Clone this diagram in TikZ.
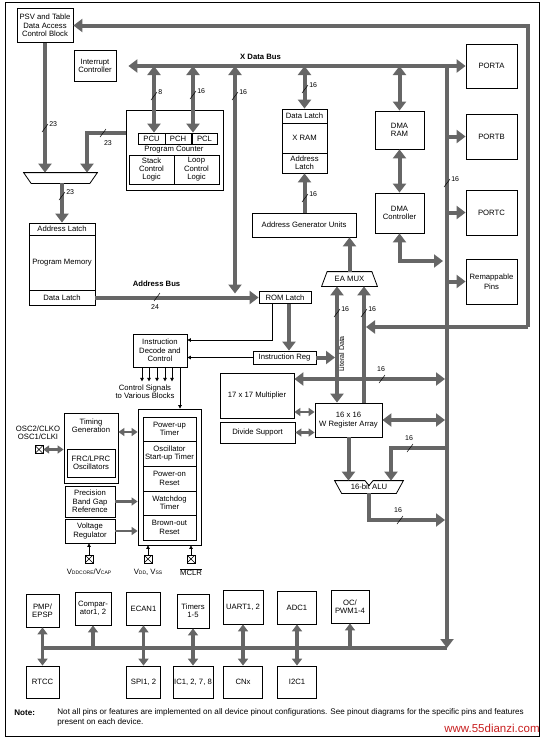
\documentclass[tikz,border=0pt]{standalone}
\usepackage{fontspec}
\setmainfont{Liberation Sans}
\usetikzlibrary{arrows.meta}
\definecolor{busgray}{RGB}{102,102,102}
\definecolor{markred}{RGB}{200,30,30}
\newcommand{\blkfont}{\fontsize{7.7}{8.4}\selectfont}
\newcommand{\numfont}{\fontsize{7}{8}\selectfont}
\newcommand{\notefont}{\fontsize{8.1}{9.5}\selectfont}
\newcommand{\capfont}{\fontsize{5}{6}\selectfont}
\begin{document}
\begin{tikzpicture}[x=1pt, y=-1pt, thick,
  blk/.style = {draw, inner sep=0pt, align=center, font=\blkfont},
  bus/.style = {draw=busgray, line width=4pt, -{Triangle[length=9pt, width=13pt]}},
  dbus/.style = {draw=busgray, line width=4pt, {Triangle[length=9pt, width=13pt]}-{Triangle[length=9pt, width=13pt]}},
  bline/.style = {draw=busgray, line width=4pt},
  pbus/.style = {draw=busgray, line width=3.5pt, -{Triangle[length=7pt, width=10pt]}},
  pdbus/.style = {draw=busgray, line width=3.5pt, {Triangle[length=7pt, width=10pt]}-{Triangle[length=7pt, width=10pt]}},
  sbus/.style = {draw=busgray, line width=2.5pt, -{Triangle[length=6pt, width=8pt]}},
  sdbus/.style = {draw=busgray, line width=2.5pt, {Triangle[length=6pt, width=8pt]}-{Triangle[length=6pt, width=8pt]}},
  sig/.style = {draw=black, line width=0.7pt, -{Triangle[length=3.5pt, width=3.5pt]}},
  wid/.style = {draw=black, line width=0.5pt},
  num/.style = {font=\numfont, inner sep=1pt},
  padbox/.style = {draw, thin, minimum size=8pt, inner sep=0pt,
    path picture={\draw[thin] (path picture bounding box.south west) -- (path picture bounding box.north east)
      (path picture bounding box.north west) -- (path picture bounding box.south east);}}]
\useasboundingbox (0,0) rectangle (547,742);
\draw[line width=1pt] (5,2) rectangle (539,736);

% top half
\node[blk, minimum width=56, minimum height=34] (psv) at (45,25.5) {PSV and Table\\Data Access\\Control Block};
\node[blk, minimum width=42, minimum height=31] (intc) at (95,66) {Interrupt\\Controller};
\node[blk, minimum width=97, minimum height=80] (pc) at (174.5,150) {};
\node[blk, minimum width=27, minimum height=11] (pcu) at (151.5,138.5) {PCU};
\node[blk, minimum width=26, minimum height=11] (pch) at (178,138.5) {PCH};
\node[blk, minimum width=25, minimum height=11] (pcl) at (204.5,138.5) {PCL};
\node[font=\blkfont, inner sep=0pt] (pctxt) at (174,150) {Program Counter};
\node[blk, minimum width=45, minimum height=29] (stack) at (151.5,169.5) {Stack\\Control\\Logic};
\node[blk, minimum width=45, minimum height=29] (loop) at (196.5,169.5) {Loop\\Control\\Logic};
\node[minimum width=73, minimum height=10, inner sep=0pt] (mux) at (60.5,178) {};
\draw (mux.north west) -- (mux.north east) -- ([xshift=-7.5pt]mux.south east) -- ([xshift=7.5pt]mux.south west) -- cycle;
\node[blk, minimum width=66, minimum height=12] (pmal) at (62,229) {Address Latch};
\node[blk, minimum width=66, minimum height=55] (pm) at (62,262.5) {Program Memory};
\node[blk, minimum width=66, minimum height=15] (pmdl) at (62,297.5) {Data Latch};
\node[blk, minimum width=45, minimum height=14] (xrdl) at (304.5,116) {Data Latch};
\node[blk, minimum width=45, minimum height=30] (xram) at (304.5,138) {X RAM};
\node[blk, minimum width=45, minimum height=20] (xral) at (304.5,163) {Address\\Latch};
\node[blk, minimum width=49, minimum height=38] (dmar) at (399.5,130) {DMA\\RAM};
\node[blk, minimum width=49, minimum height=40] (dmac) at (399.5,213) {DMA\\Controller};
\node[blk, minimum width=104, minimum height=24] (agu) at (304,225) {Address Generator Units};
\node[blk, minimum width=51, minimum height=44] (porta) at (491.5,66) {PORTA};
\node[blk, minimum width=51, minimum height=45] (portb) at (491.5,136.5) {PORTB};
\node[blk, minimum width=51, minimum height=45] (portc) at (491.5,212.5) {PORTC};
\node[blk, minimum width=51, minimum height=45] (remap) at (491.5,281.5) {Remappable\\[2pt]Pins};
\node[font=\blkfont, minimum width=55, minimum height=14, inner sep=0pt] (eamux) at (349.5,279) {EA MUX};
\draw ([xshift=5.5pt]eamux.north west) -- ([xshift=-5.5pt]eamux.north east) -- (eamux.south east) -- (eamux.south west) -- cycle;
\node[blk, minimum width=52, minimum height=12] (rom) at (285,297.5) {ROM Latch};
\node[blk, minimum width=63, minimum height=13] (irg) at (284.5,357.5) {Instruction Reg};
\node[blk, minimum width=54, minimum height=33] (dec) at (160,350.5) {Instruction\\Decode and\\Control};

% middle
\node[blk, minimum width=74, minimum height=45] (mult) at (257,395.5) {17 x 17 Multiplier};
\node[blk, minimum width=75, minimum height=21] (div) at (257.5,432.5) {Divide Support};
\node[blk, minimum width=67, minimum height=34] (wreg) at (348.5,420) {16 x 16\\W Register Array};
\node[font=\blkfont, minimum width=68, minimum height=12, inner sep=0pt] (alu) at (369,487) {\raisebox{-1pt}{16-bit ALU}};
\draw (alu.north west) -- ([xshift=-4pt]alu.north) -- ([yshift=-5pt]alu.north) -- ([xshift=4pt]alu.north) -- (alu.north east)
  -- ([xshift=-7pt]alu.south east) -- ([xshift=7pt]alu.south west) -- cycle;
\node[blk, minimum width=54, minimum height=70] (tim) at (91,448) {};
\node[font=\blkfont, align=center, inner sep=0pt] (timtxt) at (91,426) {Timing\\Generation};
\node[blk, minimum width=48, minimum height=28] (frc) at (91,463) {FRC/LPRC\\Oscillators};
\node[blk, minimum width=50, minimum height=31] (bgap) at (90,501.5) {Precision\\Band Gap\\Reference};
\node[blk, minimum width=50, minimum height=24] (vreg) at (90,531) {Voltage\\Regulator};
\node[blk, minimum width=63, minimum height=136] (rst) at (169.5,477) {};
\node[blk, minimum width=53, minimum height=24] (pwrt) at (169.5,429) {Power-up\\Timer};
\node[blk, minimum width=53, minimum height=25] (ost) at (169.5,453.5) {Oscillator\\Start-up Timer};
\node[blk, minimum width=53, minimum height=25] (por) at (169.5,478.5) {Power-on\\Reset};
\node[blk, minimum width=53, minimum height=24] (wdt) at (169.5,503) {Watchdog\\Timer};
\node[blk, minimum width=53, minimum height=25] (bor) at (169.5,527.5) {Brown-out\\Reset};
\node[padbox] (osc) at (39,449.5) {};
\node[font=\blkfont, align=center, inner sep=0pt] (osctxt) at (38,432.5) {OSC2/CLKO\\OSC1/CLKI};
\node[padbox] (vcap) at (89,559) {};
\node[padbox] (vdd) at (148,559) {};
\node[padbox] (mclr) at (191,559) {};
\node[font=\blkfont, inner sep=0pt] (vcaptxt) at (89,572) {V\capfont DDCORE\blkfont/V\capfont CAP};
\node[font=\blkfont, inner sep=0pt] (vddtxt) at (148,572) {V\capfont DD\blkfont, V\capfont SS};
\node[font=\blkfont, inner sep=0pt] (mclrtxt) at (191,572) {$\overline{\mbox{\blkfont MCLR}}$};
\node[font=\blkfont, align=center, inner sep=0pt] (ctltxt) at (145,392) {Control Signals\\to Various Blocks};

% peripherals
\node[blk, minimum width=33, minimum height=33] (pmp) at (42.5,610.5) {PMP/\\EPSP};
\node[blk, minimum width=36, minimum height=33] (comp) at (93,608.5) {Compar-\\ator1, 2};
\node[blk, minimum width=34, minimum height=33] (ecan) at (143.5,608.5) {ECAN1};
\node[blk, minimum width=32, minimum height=34] (timr) at (193,611) {Timers\\1-5};
\node[blk, minimum width=40, minimum height=34] (uart) at (243,607) {UART1, 2};
\node[blk, minimum width=39, minimum height=33] (adc) at (297,607.5) {ADC1};
\node[blk, minimum width=38, minimum height=33] (oc) at (350,606.5) {OC/\\PWM1-4};
\node[blk, minimum width=33, minimum height=32] (rtcc) at (42.5,682) {RTCC};
\node[blk, minimum width=34, minimum height=32] (spi) at (143.5,682) {SPI1, 2};
\node[blk, minimum width=40, minimum height=32] (icap) at (193,682) {IC1, 2, 7, 8};
\node[blk, minimum width=39, minimum height=32] (cnx) at (243,682) {CNx};
\node[blk, minimum width=39, minimum height=32] (i2c) at (297,682) {I2C1};

\coordinate (xbus) at (447,66);
\coordinate (pbus) at (447,648);
\coordinate (ring) at (528,327);

% buses
\draw[bus] (ring) |- (psv.east);
\draw[bus, shorten >=2pt] (ring) -- (ring -| 364,0);
\draw[dbus, shorten <=12pt] (intc.east) -- (porta.west);
\node[font=\bfseries\blkfont] (xbtxt) at (260.5,57) {X Data Bus};
\draw[bus] (xbus) -- (pbus);
\draw[bline] (pbus) -- (rtcc.north |- pbus);
\draw[dbus] (xbus -| 154,0) -- (pcu.north -| 154,0);
\draw[dbus] (xbus -| 193,0) -- (pch.north -| 193,0);
\draw[dbus, shorten >=4pt] (xbus -| 235,0) -- (rom.west -| 235,0);
\draw[dbus] (xrdl.north |- xbus) -- (xrdl.north);
\draw[dbus] (dmar.north |- xbus) -- (dmar.north);
\draw[dbus] (dmar.south) -- (dmac.north);
\draw[dbus, shorten >=4pt] (dmac.south) |- (xbus |- 0,261);
\draw[bus] (xbus |- portb.west) -- (portb.west);
\draw[bus] (xbus |- portc.west) -- (portc.west);
\draw[bus] (xbus |- remap.west) -- (remap.west);
\draw[bus] (agu.north -| xral.south) -- (xral.south);
\draw[bus] (eamux.north) -- (agu.south -| eamux.north);
\draw[bus] (psv.south) -- (mux.north -| psv.south);
\draw[bus] (pc.west |- 0,133) -| (mux.north -| 87,0);
\draw[bus] (mux.south -| pmal.north) -- (pmal.north);
\draw[bus] (pmdl.east) -- (rom.west);
\node[font=\bfseries\blkfont] (abtxt) at (156.5,284) {Address Bus};
\draw[bus] (rom.south -| 289,0) -- (irg.north -| 289,0);
\draw[sig] (rom.south -| 272,0) |- (dec.east |- 0,340);
\draw[sig] (irg.west) -- (dec.east |- irg.west);
\draw[bus, shorten >=2pt] (irg.east) -- (irg.east -| 337,0);
\draw[dbus] (wreg.north -| 337,0) -- (eamux.south -| 337,0);
\draw[bus] (wreg.north -| 364,0) -- (eamux.south -| 364,0);
\node[rotate=90, fill=white, inner sep=0.3pt, font=\numfont] (littxt) at (341.5,354) {Literal Data};
\draw[dbus, shorten >=2pt] (mult.east |- 0,379) -- (xbus |- 0,379);
\draw[sdbus] (mult.east |- 0,412) -- (wreg.west |- 0,412);
\draw[sdbus] (div.east) -- (wreg.west |- div.east);
\draw[dbus, shorten >=2pt] (wreg.east) -- (xbus |- wreg.east);
\draw[bus] (wreg.south) -- (alu.north -| wreg.south);
\draw[bus] (xbus |- 0,448) -| (alu.north -| 391,0);
\draw[bus, shorten >=2pt] (alu.south) |- (xbus |- 0,520);
\foreach \x in {142,149,157,165,172}
  \draw[sig] (dec.south -| \x,0) -- ++(0,14);
\draw[sig] (dec.south -| 180,0) -- (rst.north -| 180,0);
\draw[sdbus] (tim.east |- 0,432) -- (rst.west |- 0,432);
\draw[sdbus] (osc.east) -- (tim.west |- osc.east);
\draw[sbus] (bgap.east) -- (rst.west |- bgap.east);
\draw[sbus] (vreg.east) -- (rst.west |- vreg.east);
\draw[sig] (vcap.north) -- (vreg.south -| vcap.north);
\draw[sig] (vdd.north) -- (rst.south -| vdd.north);
\draw[sig] (mclr.north) -- (rst.south -| mclr.north);
\draw[pdbus] (pmp.south) -- (rtcc.north);
\draw[pbus] (comp.south |- pbus) -- (comp.south);
\draw[pdbus] (ecan.south) -- (spi.north);
\draw[pdbus] (timr.south) -- (icap.north);
\draw[pdbus] (uart.south) -- (cnx.north);
\draw[pdbus] (adc.south) -- (i2c.north);
\draw[pbus] (oc.south |- pbus) -- (oc.south);

% bus widths
\draw[wid] (45,128) +(-3,4) -- +(3,-4) node[num, right] {23};
\draw[wid] (103,133) +(-3,4) -- +(3,-4);
\node[num] at (108,143) {23};
\draw[wid] (62,196) +(-3,4) -- +(3,-4) node[num, right] {23};
\draw[wid] (154,96) +(-3,4) -- +(3,-4) node[num, right] {8};
\draw[wid] (193,95) +(-3,4) -- +(3,-4) node[num, right] {16};
\draw[wid] (235,96) +(-3,4) -- +(3,-4) node[num, right] {16};
\draw[wid] (305,89) +(-3,4) -- +(3,-4) node[num, right] {16};
\draw[wid] (305,198) +(-3,4) -- +(3,-4) node[num, right] {16};
\draw[wid] (447,183) +(-3,4) -- +(3,-4) node[num, right] {16};
\draw[wid] (157,297) +(-3,4) -- +(3,-4);
\node[num] at (155,307) {24};
\draw[wid] (337,313) +(-3,4) -- +(3,-4) node[num, right] {16};
\draw[wid] (364,313) +(-3,4) -- +(3,-4) node[num, right] {16};
\draw[wid] (382,379) +(-3,4) -- +(3,-4);
\node[num] at (381,369) {16};
\draw[wid] (410,448) +(-3,4) -- +(3,-4);
\node[num] at (409,438) {16};
\draw[wid] (400,520) +(-3,4) -- +(3,-4);
\node[num] at (398,510) {16};

% note
\node[font=\bfseries\notefont, anchor=west, inner sep=0pt] (notehd) at (14,713) {Note:};
\node[font=\notefont, align=left, anchor=north west, inner sep=0pt] (notetxt) at (57,708.5)
  {Not all pins or features are implemented on all device pinout configurations. See pinout diagrams for the specific pins and features\\present on each device.};
\node[font=\fontsize{11.5}{12}\selectfont, text=markred, anchor=east, inner sep=0pt] (mark) at (540,728) {www.55dianzi.com};
\end{tikzpicture}
\end{document}
